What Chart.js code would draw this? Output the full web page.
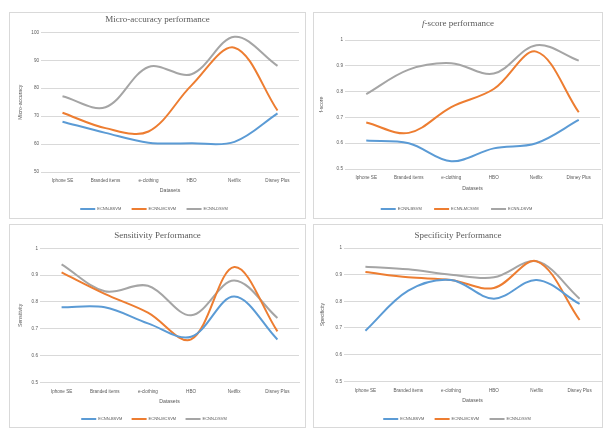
<!DOCTYPE html>
<html>
<head>
<meta charset="utf-8">
<script src="https://cdn.jsdelivr.net/npm/chart.js@4.4.1/dist/chart.umd.min.js"></script>
<style>
  html, body { margin: 0; padding: 0; background: #ffffff; }
  body { width: 607px; height: 429px; position: relative; overflow: hidden; }
  .frame { position: absolute; border: 1px solid #d9d9d9; box-sizing: border-box; }
  canvas { position: absolute; }
</style>
</head>
<body>
<script>
// Categories and series names
const datasetNames = ['Iphone SE', 'Branded items', 'e-clothing', 'HBO', 'Netflix', 'Disney Plus'];
const seriesNames = ['ECNN-BSVM', 'ECNN-MCSVM', 'ECNN-DSVM'];

// Micro-accuracy (%)
const microBsvm  = [68.0, 64.0, 60.5, 60.3, 60.8, 71.0];
const microMcsvm = [71.2, 65.7, 64.5, 81.0, 94.5, 72.0];
const microDsvm  = [77.1, 73.2, 87.6, 85.0, 98.4, 88.0];

// f-score
const fBsvm  = [0.61, 0.60, 0.53, 0.58, 0.60, 0.69];
const fMcsvm = [0.68, 0.64, 0.74, 0.81, 0.955, 0.72];
const fDsvm  = [0.79, 0.885, 0.91, 0.87, 0.98, 0.92];

// Sensitivity
const sensBsvm  = [0.78, 0.78, 0.72, 0.67, 0.82, 0.66];
const sensMcsvm = [0.91, 0.83, 0.76, 0.66, 0.93, 0.69];
const sensDsvm  = [0.94, 0.84, 0.86, 0.75, 0.88, 0.74];

// Specificity
const specBsvm  = [0.69, 0.84, 0.88, 0.81, 0.88, 0.79];
const specMcsvm = [0.91, 0.89, 0.88, 0.85, 0.95, 0.73];
const specDsvm  = [0.93, 0.92, 0.90, 0.89, 0.95, 0.81];

// Value axis ranges: [min, max, step]
const microAxis = [50, 100, 10];
const rateAxis = [0.5, 1, 0.1];

const seriesColors = ['#5b9bd5', '#ed7d31', '#a5a5a5'];
const textColor = '#595959';
const gridColor = '#d9d9d9';

// Panel layout in page pixels
const panels = [
  { box: [9, 12, 306, 219], plot: [41, 299, 32.3, 172], titleY: 20, xLabelY: 181, xTitleY: 191, legendY: 209, yTitleX: 21,
    title: [['Micro-accuracy performance', false]], yTitle: 'Micro-accuracy', axis: microAxis,
    series: [microBsvm, microMcsvm, microDsvm] },
  { box: [313, 12, 603, 219], plot: [345, 600, 40, 169], titleY: 24, xLabelY: 178, xTitleY: 189, legendY: 209, yTitleX: 322,
    title: [['f', true], ['-score performance', false]], yTitle: 'f-score', axis: rateAxis,
    series: [fBsvm, fMcsvm, fDsvm] },
  { box: [9, 224, 306, 428], plot: [40, 299, 248.3, 382.3], titleY: 236, xLabelY: 392, xTitleY: 402, legendY: 419, yTitleX: 21,
    title: [['Sensitivity Performance', false]], yTitle: 'Sensitivity', axis: rateAxis,
    series: [sensBsvm, sensMcsvm, sensDsvm] },
  { box: [313, 224, 603, 428], plot: [344, 601, 248, 381.3], titleY: 236, xLabelY: 391, xTitleY: 401, legendY: 419, yTitleX: 323,
    title: [['Specificity Performance', false]], yTitle: 'Specificity', axis: rateAxis,
    series: [specBsvm, specMcsvm, specDsvm] }
];

// Serif chart title with optional italic runs, centred on the panel
const panelTitle = {
  id: 'panelTitle',
  afterDraw(chart, args, opts) {
    const ctx = chart.ctx;
    const size = 9;
    const fam = '"Liberation Serif", "DejaVu Serif", serif';
    ctx.save();
    ctx.fillStyle = textColor;
    ctx.textBaseline = 'middle';
    ctx.textAlign = 'left';
    let total = 0;
    const widths = opts.runs.map(([t, it]) => {
      ctx.font = (it ? 'italic ' : '') + size + 'px ' + fam;
      const w = ctx.measureText(t).width;
      total += w;
      return w;
    });
    let x = chart.width / 2 - total / 2;
    opts.runs.forEach(([t, it], i) => {
      ctx.font = (it ? 'italic ' : '') + size + 'px ' + fam;
      ctx.fillText(t, x, opts.y);
      x += widths[i];
    });
    ctx.restore();
  }
};

const sans = '"Liberation Sans", Arial, sans-serif';
const tickSize = 4.6, axisTitleSize = 5.2, legendSize = 4;

panels.forEach(p => {
  const [bl, bt, br, bb] = p.box;
  const [pl, pr, pt, pb] = p.plot;
  const W = br - bl;

  const frame = document.createElement('div');
  frame.className = 'frame';
  Object.assign(frame.style, { left: bl + 'px', top: bt + 'px', width: W + 'px', height: (bb - bt) + 'px' });
  document.body.appendChild(frame);

  // canvas-local positions
  const plotB = pb - bt;
  const xTitleLh = axisTitleSize * 1.2;
  const hx = (p.xTitleY - bt) + xTitleLh / 2 + 2.5 - plotB;
  const legendPad = (p.legendY - bt) - plotB - hx - legendSize / 2;
  const need = plotB + hx + legendSize + legendPad + 10;
  const H = Math.ceil(need);
  const padBottom = H - need;

  const canvas = document.createElement('canvas');
  canvas.width = W;
  canvas.height = H;
  canvas.style.left = bl + 'px';
  canvas.style.top = bt + 'px';
  canvas.style.width = W + 'px';
  canvas.style.height = H + 'px';
  document.body.appendChild(canvas);

  const yTitleLh = axisTitleSize * 1.2;

  new Chart(canvas, {
    type: 'line',
    data: {
      labels: datasetNames,
      datasets: p.series.map((vals, i) => ({
        label: seriesNames[i],
        data: vals,
        borderColor: seriesColors[i],
        backgroundColor: seriesColors[i],
        borderWidth: 2,
        pointRadius: 0,
        pointHoverRadius: 0,
        tension: 0.35,
        fill: false
      }))
    },
    options: {
      responsive: false,
      animation: false,
      devicePixelRatio: 1,
      layout: { padding: { top: pt - bt, left: 0, right: br - pr, bottom: padBottom } },
      plugins: {
        title: { display: false },
        tooltip: { enabled: false },
        panelTitle: { runs: p.title, y: p.titleY - bt },
        legend: {
          position: 'bottom',
          labels: {
            usePointStyle: true,
            pointStyle: 'line',
            pointStyleWidth: 15,
            padding: legendPad,
            color: textColor,
            font: { family: sans, size: legendSize }
          }
        }
      },
      scales: {
        x: {
          offset: true,
          grid: { display: false, drawTicks: false },
          border: { display: true, color: gridColor, width: 1 },
          ticks: {
            color: textColor,
            font: { family: sans, size: tickSize },
            padding: (p.xLabelY - pb) - tickSize * 0.6,
            maxRotation: 0,
            autoSkip: false
          },
          title: {
            display: true,
            text: 'Datasets',
            color: textColor,
            font: { family: sans, size: axisTitleSize },
            padding: { top: 0, bottom: 2.5 }
          },
          afterFit(s) { s.height = hx; }
        },
        y: {
          min: p.axis[0],
          max: p.axis[1],
          ticks: {
            stepSize: p.axis[2],
            color: textColor,
            font: { family: sans, size: tickSize },
            padding: 2,
            callback: v => String(Math.round(v * 100) / 100)
          },
          grid: { color: gridColor, lineWidth: 1, drawTicks: false },
          border: { display: false },
          title: {
            display: true,
            text: p.yTitle,
            color: textColor,
            font: { family: sans, size: axisTitleSize },
            padding: { top: (p.yTitleX - bl) - yTitleLh / 2, bottom: 0 }
          },
          afterFit(s) { s.width = pl - bl; }
        }
      }
    },
    plugins: [panelTitle]
  });
});
</script>
</body>
</html>
